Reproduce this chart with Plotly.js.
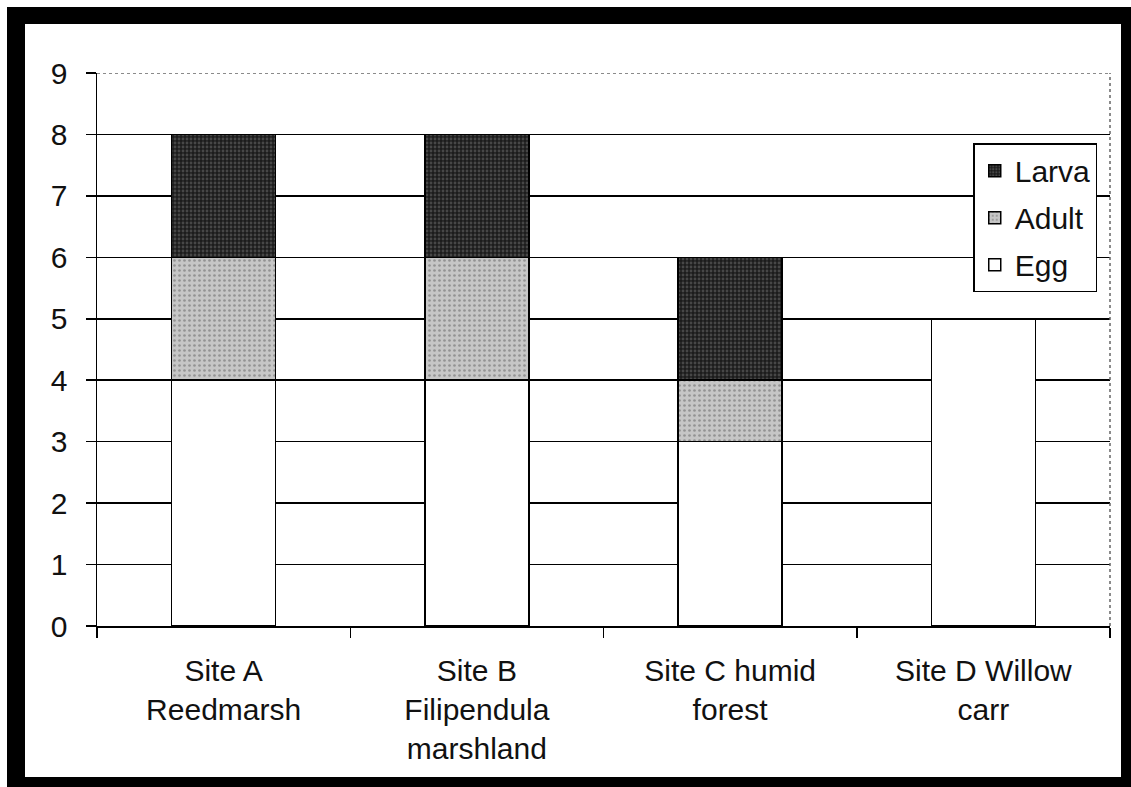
<!DOCTYPE html>
<html>
<head>
<meta charset="utf-8">
<script src="https://cdn.plot.ly/plotly-3.0.1.min.js"></script>
<style>
  html, body { margin:0; padding:0; background:#fff; }
  #frame { position:absolute; left:7px; top:7px; width:1124px; height:780px; background:#000; }
  #inner { position:absolute; left:25px; top:24px; width:1096px; height:753px; background:#fff; }
  #chart { position:absolute; left:0; top:0; width:1131px; height:787px; }
</style>
</head>
<body>
<div id="frame"></div>
<div id="inner"></div>
<div id="chart"></div>
<script>
const categories = [
  "Site A<br>Reedmarsh",
  "Site B<br>Filipendula<br>marshland",
  "Site C humid<br>forest",
  "Site D Willow<br>carr"
];
const egg   = [4, 4, 3, 5];
const adult = [2, 2, 1, 0];
const larva = [2, 2, 2, 0];
const yTicks = [0, 1, 2, 3, 4, 5, 6, 7, 8, 9];

const FONT = "Liberation Sans, Arial, sans-serif";
const TEXT = "#111";
const lineStyle = {color: "#000", width: 1.5};

const traces = [
  {
    type: "bar", name: "Egg", x: categories, y: egg, legendgroup: "egg", legendrank: 3,
    marker: {color: "#ffffff", line: lineStyle}
  },
  {
    type: "bar", name: "Adult", x: categories, y: adult, legendgroup: "adult", legendrank: 2,
    marker: {color: "#c0c0c0", line: lineStyle,
      pattern: {shape: ".", fgcolor: "#939393", bgcolor: "#c6c6c6", size: 5, solidity: 0.22}}
  },
  {
    type: "bar", name: "Larva", x: categories, y: larva, legendgroup: "larva", legendrank: 1,
    marker: {color: "#222222", line: lineStyle,
      pattern: {shape: ".", fgcolor: "#474747", bgcolor: "#1c1c1c", size: 4, solidity: 0.4}}
  }
];

const layout = {
  width: 1131, height: 787,
  margin: {l: 97, r: 21, t: 73, b: 161},
  paper_bgcolor: "rgba(0,0,0,0)",
  plot_bgcolor: "#ffffff",
  barmode: "stack",
  bargap: 0.59,
  showlegend: true,
  font: {family: FONT, size: 31, color: TEXT},
  legend: {
    x: 0.865, y: 0.873, xanchor: "left", yanchor: "top",
    bgcolor: "#ffffff", bordercolor: "#000", borderwidth: 1.5,
    traceorder: "grouped", tracegroupgap: 5,
    font: {family: FONT, size: 30, color: TEXT}
  },
  xaxis: {
    type: "category",
    showline: true, linecolor: "#000", linewidth: 1.5,
    ticks: "outside", tickson: "boundaries", ticklen: 10, tickwidth: 1.5, tickcolor: "#000",
    showgrid: false, zeroline: false,
    ticklabelstandoff: 17,
    tickfont: {family: FONT, size: 30, color: TEXT},
    fixedrange: true
  },
  yaxis: {
    range: [0, 9],
    tickvals: yTicks,
    ticktext: yTicks.map(String),
    showline: true, linecolor: "#000", linewidth: 1.5,
    ticks: "outside", ticklen: 10, tickwidth: 1.5, tickcolor: "#000",
    showgrid: true, gridcolor: "#000", gridwidth: 1.5,
    zeroline: false,
    ticklabelstandoff: 12,
    tickfont: {family: FONT, size: 30, color: TEXT},
    fixedrange: true
  },
  shapes: [
    {type: "line", xref: "paper", yref: "y", x0: 0.002, x1: 1, y0: 9, y1: 9,
     line: {color: "#ffffff", width: 3}, layer: "above"},
    {type: "line", xref: "paper", yref: "y", x0: 0, x1: 1, y0: 9, y1: 9,
     line: {color: "#666666", width: 1.5, dash: "dot"}, layer: "above"},
    {type: "line", xref: "paper", yref: "paper", x0: 1, x1: 1, y0: 0, y1: 1,
     line: {color: "#666666", width: 1.5, dash: "dot"}, layer: "above"}
  ]
};

Plotly.newPlot("chart", traces, layout, {displayModeBar: false, staticPlot: true});
</script>
</body>
</html>
